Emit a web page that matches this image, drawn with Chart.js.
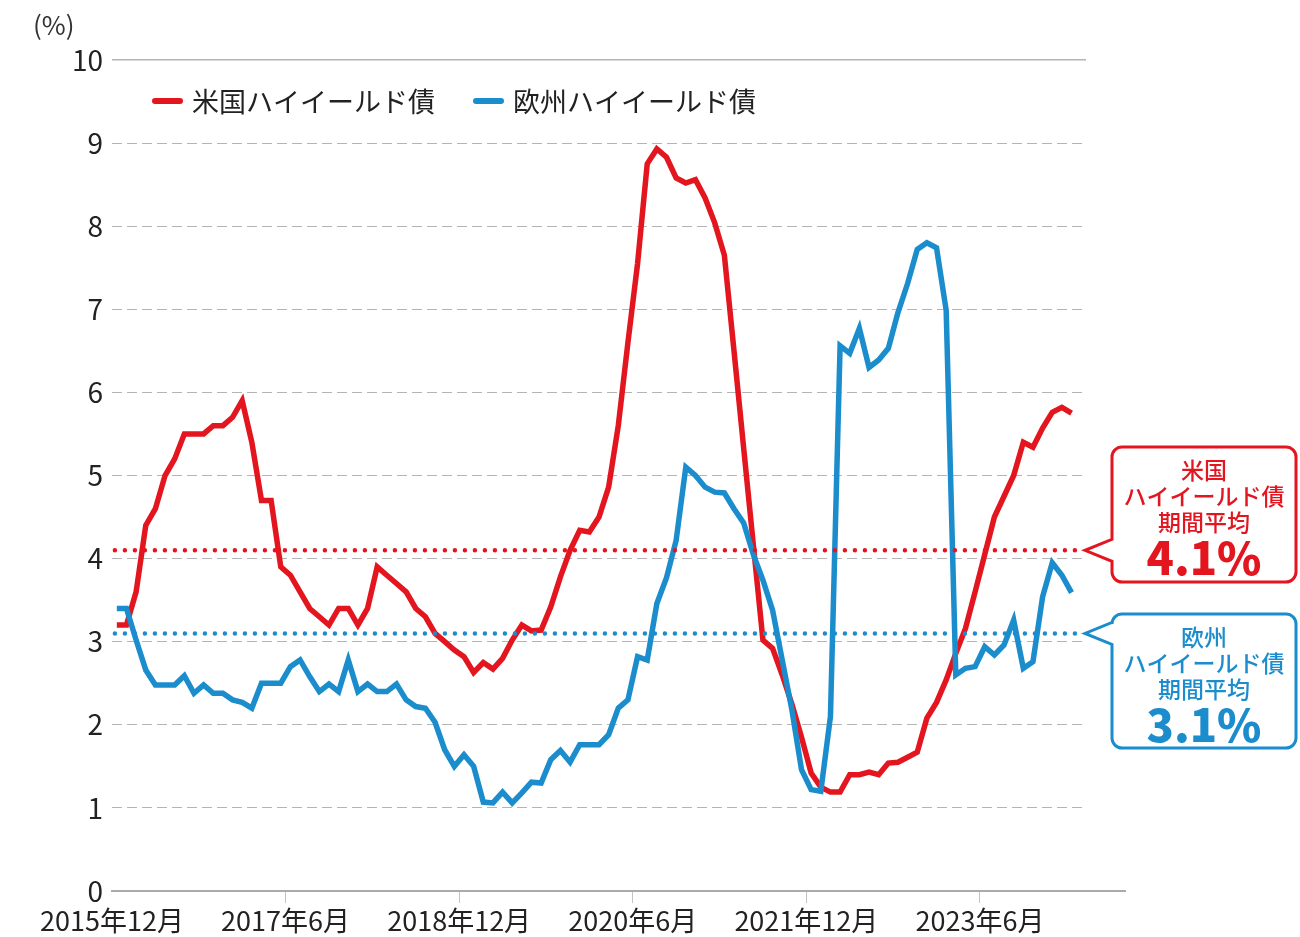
<!DOCTYPE html>
<html lang="ja">
<head>
<meta charset="utf-8">
<script src="https://cdn.jsdelivr.net/npm/chart.js@4.4.1/dist/chart.umd.min.js"></script>
<style>
  html, body { margin: 0; padding: 0; background: #fff; }
</style>
</head>
<body>
<canvas id="myChart" width="1300" height="937"></canvas>
<script>
// x axis: month index from 2015年12月, labels every 18 months
var tickMonths = [0, 18, 36, 54, 72, 90];
var tickLabels = ["2015年12月", "2017年6月", "2018年12月", "2020年6月", "2021年12月", "2023年6月"];

var seriesNames = ["米国ハイイールド債", "欧州ハイイールド債"];

var usHY = [
  3.2, 3.2, 3.6, 4.4, 4.6, 5.0, 5.2, 5.5, 5.5, 5.5,
  5.6, 5.6, 5.7, 5.9, 5.4, 4.7, 4.7, 3.9, 3.8, 3.6,
  3.4, 3.3, 3.2, 3.4, 3.4, 3.2, 3.4, 3.9, 3.8, 3.7,
  3.6, 3.4, 3.3, 3.1, 3.0, 2.9, 2.82, 2.63, 2.75, 2.67,
  2.8, 3.02, 3.2, 3.13, 3.14, 3.42, 3.78, 4.1, 4.34, 4.32,
  4.5, 4.86, 5.6, 6.6, 7.55, 8.75, 8.93, 8.83, 8.58, 8.52,
  8.56, 8.34, 8.04, 7.65, 6.5, 5.33, 4.17, 3.02, 2.92, 2.6,
  2.25, 1.85, 1.42, 1.25, 1.19, 1.19, 1.4, 1.4, 1.43, 1.4,
  1.54, 1.55, 1.61, 1.67, 2.08, 2.27, 2.54, 2.86, 3.16, 3.6,
  4.05, 4.5, 4.75, 5.0, 5.4, 5.34, 5.57, 5.76, 5.82, 5.75
];

var euHY = [
  3.4, 3.4, 3.02, 2.66, 2.48, 2.48, 2.48, 2.59, 2.38, 2.48,
  2.38, 2.38, 2.3, 2.27, 2.2, 2.5, 2.5, 2.5, 2.7, 2.78,
  2.58, 2.4, 2.49, 2.4, 2.78, 2.4, 2.49, 2.4, 2.4, 2.49,
  2.3, 2.22, 2.2, 2.03, 1.7, 1.5, 1.64, 1.5, 1.07, 1.06,
  1.19, 1.06, 1.18, 1.31, 1.3, 1.58, 1.69, 1.55, 1.76, 1.76,
  1.76, 1.88, 2.2, 2.3, 2.82, 2.78, 3.46, 3.77, 4.22, 5.1,
  5.0, 4.86, 4.8, 4.79, 4.6, 4.43, 4.05, 3.74, 3.38, 2.78,
  2.18, 1.46, 1.22, 1.2, 2.1, 6.56, 6.47, 6.77, 6.3, 6.39,
  6.53, 6.96, 7.31, 7.72, 7.8, 7.74, 6.99, 2.6, 2.68, 2.7,
  2.94, 2.84, 2.96, 3.26, 2.68, 2.76, 3.54, 3.95, 3.8, 3.59
];

// period averages
var usAvg = 4.1;
var euAvg = 3.1;

var RED = "#e3151f";
var BLUE = "#1b8dcd";
var FONT = "'Noto Sans CJK JP', 'Noto Sans', sans-serif";

function toPoints(arr) {
  return arr.map(function (v, i) { return { x: i + 0.5, y: v }; });
}

function avgLine(v) {
  return [{ x: 0.3, y: v }, { x: 100.2, y: v }];
}

// legend, unit label and the two callouts
var decorPlugin = {
  id: "decor",
  afterDraw: function (chart) {
    var ctx = chart.ctx;
    var area = chart.chartArea;
    var y = chart.scales.y;

    ctx.save();
    // x axis runs a bit past the plot
    ctx.strokeStyle = "#aaaaaa";
    ctx.lineWidth = 2;
    ctx.beginPath();
    ctx.moveTo(area.right - 1, Math.round(area.bottom));
    ctx.lineTo(1126, Math.round(area.bottom));
    ctx.stroke();

    // unit
    ctx.fillStyle = "#333";
    ctx.font = "26px " + FONT;
    ctx.textAlign = "left";
    ctx.textBaseline = "middle";
    ctx.fillText("(%)", 33, 25);

    // legend
    var items = [
      { x: 152, color: RED, text: seriesNames[0] },
      { x: 473, color: BLUE, text: seriesNames[1] }
    ];
    items.forEach(function (it) {
      ctx.strokeStyle = it.color;
      ctx.lineWidth = 6;
      ctx.lineCap = "round";
      ctx.beginPath();
      ctx.moveTo(it.x + 3, 101);
      ctx.lineTo(it.x + 28, 101);
      ctx.stroke();
      ctx.fillStyle = "#222";
      ctx.font = "27px " + FONT;
      ctx.textAlign = "left";
      ctx.textBaseline = "middle";
      ctx.fillText(it.text, it.x + 40, 102);
    });

    // callouts
    drawCallout(ctx, 447, 582, y.getPixelForValue(usAvg), RED, ["米国", "ハイイールド債", "期間平均"], usAvg.toFixed(1) + "%");
    drawCallout(ctx, 614, 748, y.getPixelForValue(euAvg), BLUE, ["欧州", "ハイイールド債", "期間平均"], euAvg.toFixed(1) + "%");
    ctx.restore();
  }
};

function drawCallout(ctx, top, bottom, py, color, lines, big) {
  var left = 1112, right = 1296, r = 10, tipX = 1085, half = 11;
  ctx.save();
  ctx.strokeStyle = color;
  ctx.lineWidth = 3;
  ctx.lineJoin = "miter";
  ctx.fillStyle = "#fff";
  ctx.beginPath();
  ctx.moveTo(left + r, top);
  ctx.lineTo(right - r, top);
  ctx.arcTo(right, top, right, top + r, r);
  ctx.lineTo(right, bottom - r);
  ctx.arcTo(right, bottom, right - r, bottom, r);
  ctx.lineTo(left + r, bottom);
  ctx.arcTo(left, bottom, left, bottom - r, r);
  ctx.lineTo(left, py + half);
  ctx.lineTo(tipX, py);
  ctx.lineTo(left, py - half);
  ctx.lineTo(left, top + r);
  ctx.arcTo(left, top, left + r, top, r);
  ctx.closePath();
  ctx.fill();
  ctx.stroke();

  var cx = (left + right) / 2;
  ctx.fillStyle = color;
  ctx.textAlign = "center";
  ctx.textBaseline = "middle";
  ctx.font = "500 23px " + FONT;
  lines.forEach(function (t, i) {
    ctx.fillText(t, cx, top + 23 + i * 26);
  });
  ctx.font = "900 45px " + FONT;
  ctx.fillText(big, cx, top + 111);
  ctx.restore();
}

var ctx = document.getElementById("myChart");
var myChart = new Chart(ctx, {
  type: "line",
  data: {
    datasets: [
      {
        label: "us-avg",
        data: avgLine(usAvg),
        borderColor: RED,
        borderWidth: 4.5,
        borderDash: [0, 10],
        borderCapStyle: "round",
        pointRadius: 0,
        order: 0,
      },
      {
        label: "eu-avg",
        data: avgLine(euAvg),
        borderColor: BLUE,
        borderWidth: 4.5,
        borderDash: [0, 10],
        borderCapStyle: "round",
        pointRadius: 0,
        order: 0,
      },
      {
        label: seriesNames[1],
        data: toPoints(euHY),
        borderColor: BLUE,
        borderWidth: 5.5,
        pointRadius: 0,
        tension: 0,
        order: 1,
      },
      {
        label: seriesNames[0],
        data: toPoints(usHY),
        borderColor: RED,
        borderWidth: 5.5,
        pointRadius: 0,
        tension: 0,
        order: 2,
      },
    ],
  },
  options: {
    responsive: false,
    animation: false,
    devicePixelRatio: 1,
    layout: { padding: { top: 60, right: 214, bottom: 0, left: 0 } },
    plugins: {
      legend: { display: false },
      tooltip: { enabled: false },
    },
    scales: {
      x: {
        type: "linear",
        min: 0,
        max: 101,
        afterBuildTicks: function (scale) {
          scale.ticks = tickMonths.map(function (m) { return { value: m }; });
        },
        afterFit: function (scale) { scale.height = 46; },
        ticks: {
          autoSkip: false,
          maxRotation: 0,
          padding: 2,
          color: "#222",
          font: { family: FONT, size: 27 },
          callback: function (v) {
            var k = tickMonths.indexOf(v);
            return k >= 0 ? tickLabels[k] : "";
          },
        },
        grid: {
          drawOnChartArea: false,
          drawTicks: true,
          tickLength: 12,
          color: function (c) { return c.tick && c.tick.value === 0 ? "rgba(0,0,0,0)" : "#c4c4c4"; },
        },
        border: { display: true, color: "#aaaaaa", width: 2 },
      },
      y: {
        min: 0,
        max: 10,
        afterFit: function (scale) { scale.width = 112; },
        ticks: {
          stepSize: 1,
          padding: 9,
          color: "#222",
          font: { family: FONT, size: 28 },
        },
        grid: {
          drawTicks: false,
          color: function (c) { return c.tick && c.tick.value === 0 ? "rgba(0,0,0,0)" : "#b4b4b4"; },
          lineWidth: function (c) { return c.tick && c.tick.value === 10 ? 1.5 : 1; },
        },
        border: {
          display: false,
          dash: function (c) { return c.tick && c.tick.value === 10 ? [] : [10, 5]; },
        },
      },
    },
  },
  plugins: [decorPlugin],
});
</script>
</body>
</html>
